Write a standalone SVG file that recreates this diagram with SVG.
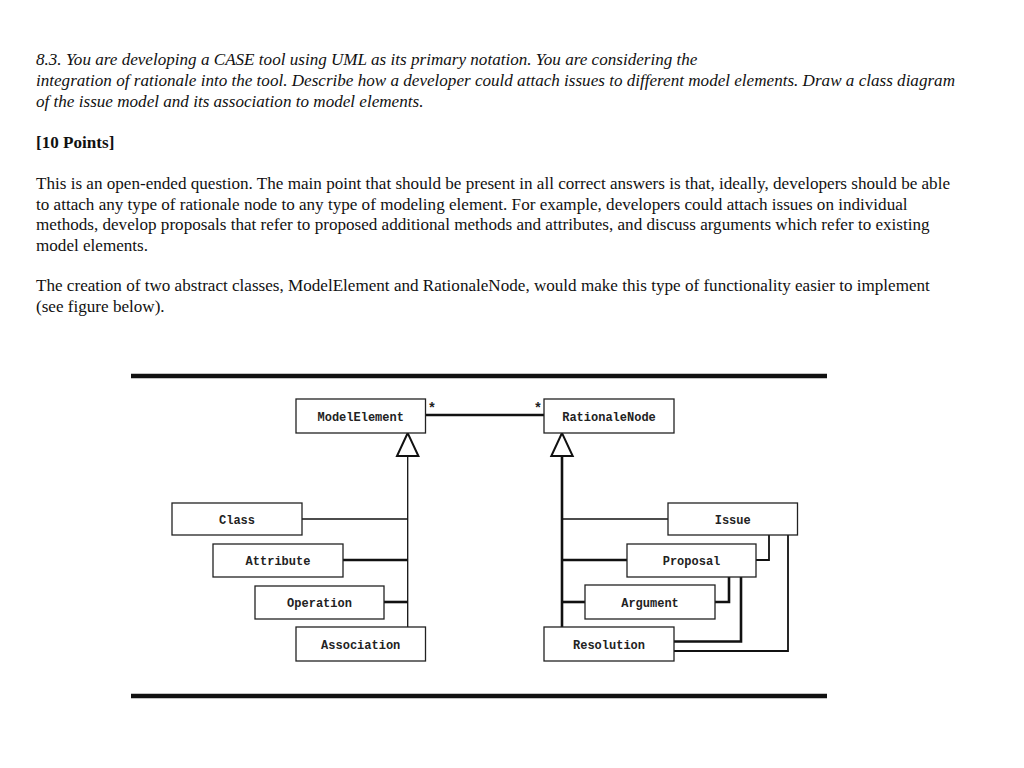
<svg xmlns="http://www.w3.org/2000/svg" width="1024" height="768" viewBox="0 0 1024 768">
<style>
.t{font-family:"Liberation Serif","Times New Roman",serif;font-size:17.1px;fill:#111}
.i{font-style:italic}
.b{font-weight:bold}
.box{fill:#fff;stroke:#222;stroke-width:1.3}
.lbl{font-family:"Liberation Mono","Courier New",monospace;font-size:12px;font-weight:bold;fill:#222;text-anchor:middle}
.star{font-family:"Liberation Mono","Courier New",monospace;font-size:14px;font-weight:bold;fill:#222;text-anchor:middle}
.thin{fill:none;stroke:#111;stroke-width:1.3}
.mid{fill:none;stroke:#111;stroke-width:1.8}
.thick{fill:none;stroke:#111;stroke-width:2.6}
.tri{fill:#fff;stroke:#111;stroke-width:2}
.rule{stroke:#111;stroke-width:4.3}
</style>
<g id="text">
<text class="t i" x="36" y="65">8.3. You are developing a CASE tool using UML as its primary notation. You are considering the</text>
<text class="t i" x="36" y="86" textLength="919" lengthAdjust="spacing">integration of rationale into the tool. Describe how a developer could attach issues to different model elements. Draw a class diagram</text>
<text class="t i" x="36" y="107">of the issue model and its association to model elements.</text>
<text class="t b" x="36" y="148">[10 Points]</text>
<text class="t" x="36" y="189" textLength="914" lengthAdjust="spacing">This is an open-ended question. The main point that should be present in all correct answers is that, ideally, developers should be able</text>
<text class="t" x="36" y="209.5">to attach any type of rationale node to any type of modeling element. For example, developers could attach issues on individual</text>
<text class="t" x="36" y="230">methods, develop proposals that refer to proposed additional methods and attributes, and discuss arguments which refer to existing</text>
<text class="t" x="36" y="250.5">model elements.</text>
<text class="t" x="36" y="291">The creation of two abstract classes, ModelElement and RationaleNode, would make this type of functionality easier to implement</text>
<text class="t" x="36" y="311.5">(see figure below).</text>
</g>
<line class="rule" x1="131" y1="376" x2="827" y2="376"/>
<line class="rule" x1="131" y1="696" x2="827" y2="696"/>
<g id="connectors">
<line class="thick" x1="425" y1="415" x2="544" y2="415"/>
<line class="thin" x1="407.7" y1="456" x2="407.7" y2="627"/>
<line class="thin" x1="302" y1="519" x2="407.7" y2="519"/>
<line class="thick" x1="343" y1="560" x2="407.7" y2="560"/>
<line class="thick" x1="384" y1="602" x2="407.7" y2="602"/>
<line class="thick" x1="562" y1="456" x2="562" y2="627"/>
<line class="thin" x1="562" y1="519" x2="668" y2="519"/>
<line class="thick" x1="562" y1="560" x2="627" y2="560"/>
<line class="thick" x1="562" y1="602" x2="585" y2="602"/>
<polyline class="mid" points="769,535 769,560 756,560"/>
<polyline class="thick" points="729,577 729,602 715,602"/>
<polyline class="thick" points="741,577 741,641.5 674,641.5"/>
<polyline class="mid" points="788,535 788,651 674,651"/>
<polygon class="tri" points="407.7,433 397,456 418.4,456"/>
<polygon class="tri" points="562,433 551.3,456 572.7,456"/>
<text class="star" x="432" y="413">*</text>
<text class="star" x="538" y="413">*</text>
</g>
<g id="ModelElement"><rect class="box" x="296" y="399" width="129.5" height="34"/><text class="lbl" x="360.7" y="420.5">ModelElement</text></g>
<g id="RationaleNode"><rect class="box" x="544" y="399" width="130" height="34"/><text class="lbl" x="609" y="420.5">RationaleNode</text></g>
<g id="Class"><rect class="box" x="172" y="503" width="130" height="32"/><text class="lbl" x="237" y="523.5">Class</text></g>
<g id="Attribute"><rect class="box" x="213" y="544" width="130" height="33"/><text class="lbl" x="278" y="565">Attribute</text></g>
<g id="Operation"><rect class="box" x="255" y="586" width="129" height="33"/><text class="lbl" x="319.5" y="607">Operation</text></g>
<g id="Association"><rect class="box" x="296" y="627" width="129.5" height="34"/><text class="lbl" x="360.7" y="648.5">Association</text></g>
<g id="Issue"><rect class="box" x="668" y="503" width="129.5" height="32"/><text class="lbl" x="732.7" y="523.5">Issue</text></g>
<g id="Proposal"><rect class="box" x="627" y="544" width="129" height="33"/><text class="lbl" x="691.5" y="565">Proposal</text></g>
<g id="Argument"><rect class="box" x="585" y="585" width="130" height="34"/><text class="lbl" x="650" y="607">Argument</text></g>
<g id="Resolution"><rect class="box" x="544" y="627" width="130" height="34"/><text class="lbl" x="609" y="648.5">Resolution</text></g>
</svg>
